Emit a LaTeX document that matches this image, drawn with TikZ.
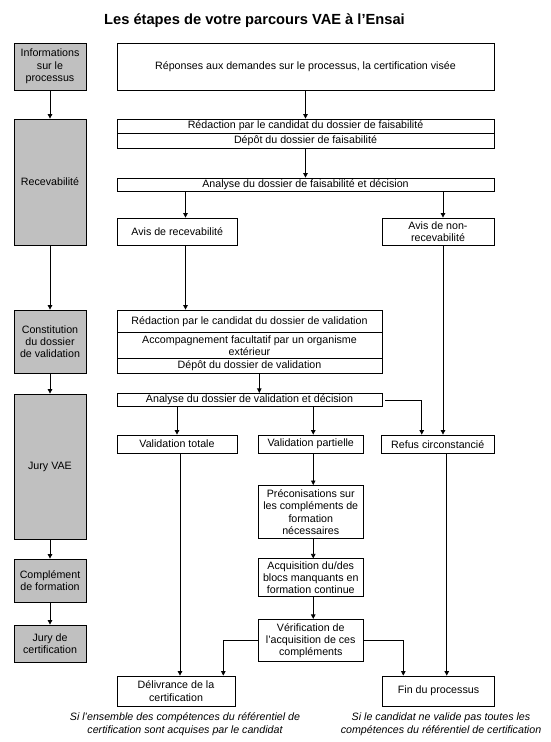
\documentclass[tikz,border=0pt]{standalone}
\usepackage{fontspec}
\setmainfont{Liberation Sans}
\usetikzlibrary{arrows.meta,calc}
\definecolor{boxgray}{RGB}{192,192,192}
\begin{document}
\begin{tikzpicture}[x=1pt,y=-1pt,
  every node/.style={font=\fontsize{10.67pt}{12.3pt}\selectfont, inner sep=0pt, align=center},
  box/.style={draw, line width=0.8pt, fill=white, rectangle},
  gbox/.style={box, fill=boxgray},
  arr/.style={line width=0.8pt, -{Triangle[length=4.5pt,width=4.5pt]}},
  caption/.style={font=\itshape\fontsize{10.67pt}{12.8pt}\selectfont}]
\useasboundingbox (0,0) rectangle (551,742);

% title
\node[font=\bfseries\fontsize{14.67pt}{17pt}\selectfont] (title) at (254.5,21) {Les étapes de votre parcours VAE à l’Ensai};

% left column (phases)
\node[gbox, minimum width=72pt, minimum height=47pt] (info) at (50,66.5) {Informations\\sur le\\processus};
\node[gbox, minimum width=72pt, minimum height=126pt] (recev) at (50,182) {Recevabilité};
\node[gbox, minimum width=72pt, minimum height=63.5pt] (constit) at (50,341.75) {Constitution\\du dossier\\de validation};
\node[gbox, minimum width=72pt, minimum height=145pt] (juryvae) at (50,466.5) {Jury VAE};
\node[gbox, minimum width=72pt, minimum height=43pt] (complem) at (50,580.5) {Complément\\de formation};
\node[gbox, minimum width=72pt, minimum height=37pt] (jurycert) at (50,643.5) {Jury de\\certification};

% main column
\node[box, minimum width=377pt, minimum height=47pt] (reponses) at (305.5,66.5) {Réponses aux demandes sur le processus, la certification visée};
\node[box, minimum width=377pt, minimum height=14pt] (redacF) at (305.5,126) {Rédaction par le candidat du dossier de faisabilité};
\node[box, minimum width=377pt, minimum height=15pt] (depotF) at (305.5,140.5) {Dépôt du dossier de faisabilité};
\node[box, minimum width=377pt, minimum height=13.5pt] (analyseF) at (305.5,184.75) {Analyse du dossier de faisabilité et décision};
\node[box, minimum width=120.5pt, minimum height=27pt] (avisR) at (177.25,231.5) {Avis de recevabilité};
\node[box, minimum width=112pt, minimum height=27pt] (avisNR) at (438,231.5) {Avis de non-\\recevabilité};

\node[box, minimum width=265pt, minimum height=22.4pt] (redacV) at (249.5,321.2) {Rédaction par le candidat du dossier de validation};
\node[box, minimum width=265pt, minimum height=26pt] (accompV) at (249.5,345.4) {Accompagnement facultatif par un organisme\\extérieur};
\node[box, minimum width=265pt, minimum height=15.1pt] (depotV) at (249.5,365.95) {Dépôt du dossier de validation};
\node[box, minimum width=265pt, minimum height=13.4pt] (analyseV) at (249.5,400) {Analyse du dossier de validation et décision};

\node[box, minimum width=120pt, minimum height=18.3pt] (VT) at (177,444.15) {Validation totale};
\node[box, minimum width=105pt, minimum height=18.3pt] (VP) at (310.75,444.15) {Validation partielle};
\node[box, minimum width=112.5pt, minimum height=18.3pt] (refus) at (437.75,444.15) {Refus circonstancié};

\node[box, minimum width=105pt, minimum height=53.4pt] (precon) at (310.75,512.1) {Préconisations sur\\les compléments de\\formation\\nécessaires};
\node[box, minimum width=105pt, minimum height=38pt] (acq) at (310.75,577.8) {Acquisition du/des\\blocs manquants en\\formation continue};
\node[box, minimum width=105pt, minimum height=42.4pt] (verif) at (310.75,640.5) {Vérification de\\l’acquisition de ces\\compléments};

\node[box, minimum width=118pt, minimum height=30pt] (deliv) at (176,691) {Délivrance de la\\certification};
\node[box, minimum width=112pt, minimum height=30pt] (fin) at (438.5,691) {Fin du processus};

\node[caption] (capL) at (185,724.5) {Si l’ensemble des compétences du référentiel de\\certification sont acquises par le candidat};
\node[caption] (capR) at (441,724.5) {Si le candidat ne valide pas toutes les\\compétences du référentiel de certification};

% helper coordinates for connector columns
\coordinate (cA) at ([xshift=8.25pt]avisR.north);
\coordinate (cB) at ([xshift=5pt]avisNR.north);
\coordinate (cC) at ([xshift=9.8pt]depotV.south);
\coordinate (cD) at ([xshift=2.5pt]VP.north);
\coordinate (cE) at ([xshift=-16pt]refus.north);
\coordinate (cF) at ([xshift=3pt]VT.south);
\coordinate (cG) at ([xshift=9pt]refus.south);
\coordinate (cH) at ([xshift=47.3pt]deliv.north);
\coordinate (cI) at ([xshift=-35.2pt]fin.north);

% left column connectors
\draw[arr] (info.south) -- (recev.north);
\draw[arr] (recev.south) -- (constit.north);
\draw[arr] (constit.south) -- (juryvae.north);
\draw[arr] (juryvae.south) -- (complem.north);
\draw[arr] (complem.south) -- (jurycert.north);

% main connectors
\draw[arr] (reponses.south) -- (redacF.north);
\draw[arr] (depotF.south) -- (analyseF.north);
\draw[arr] (cA |- analyseF.south) -- (cA);
\draw[arr] (cB |- analyseF.south) -- (cB);
\draw[arr] (cA |- avisR.south) -- (cA |- redacV.north);
\draw[arr] (cB |- avisNR.south) -- (cB |- refus.north);
\draw[arr] (cC) -- (cC |- analyseV.north);
\draw[arr] (VT.north |- analyseV.south) -- (VT.north);
\draw[arr] (cD |- analyseV.south) -- (cD);
\draw[arr] ([xshift=2.6pt]analyseV.east) -| (cE);
\draw[arr] (cF) -- (cF |- deliv.north);
\draw[arr] (cD |- VP.south) -- (cD |- precon.north);
\draw[arr] (cD |- precon.south) -- (cD |- acq.north);
\draw[arr] (cD |- acq.south) -- (cD |- verif.north);
\draw[arr] (cG) -- (cG |- fin.north);
\draw[arr] (verif.west) -| (cH);
\draw[arr] (verif.east) -| (cI);
\end{tikzpicture}
\end{document}
